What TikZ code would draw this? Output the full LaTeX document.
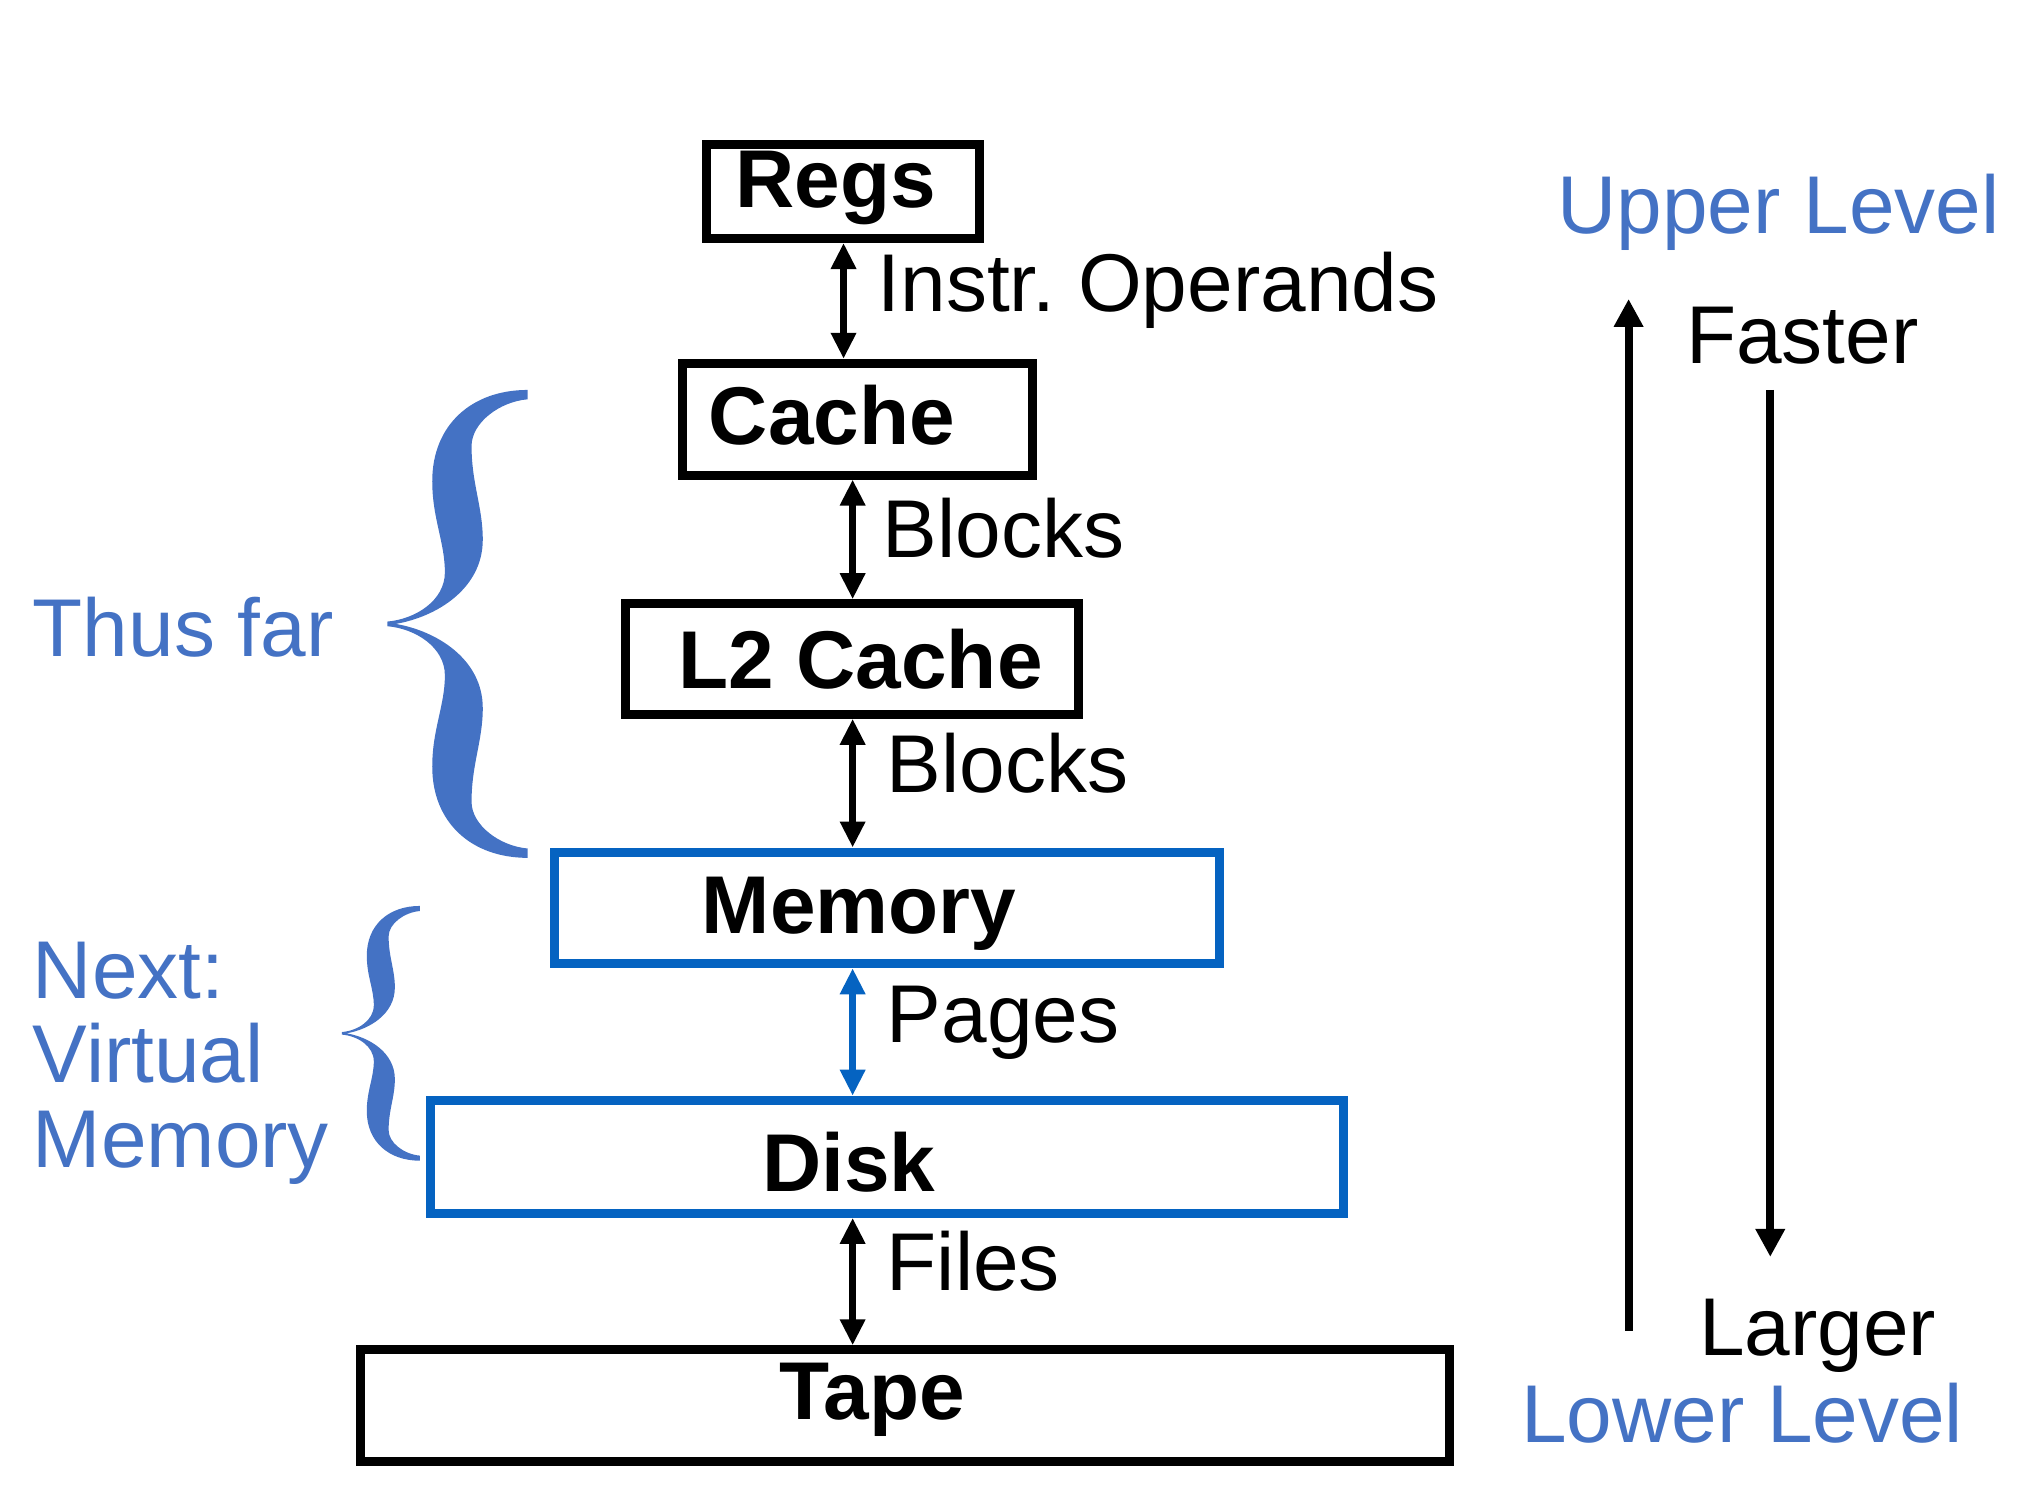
\documentclass[tikz,border=0pt]{standalone}
\usepackage{fontspec}
\setmainfont{Liberation Sans}
\usetikzlibrary{arrows.meta, positioning}

\definecolor{slideblue}{HTML}{4472C4}
\definecolor{boxblue}{HTML}{0563C1}

\tikzset{
  level/.style={draw, line width=4.5pt, inner sep=0pt},
  name text/.style={font=\fontsize{41}{49}\selectfont\bfseries, inner sep=0pt, anchor=base},
  link text/.style={font=\fontsize{41}{49}\selectfont, inner sep=0pt, anchor=base west},
  side text/.style={link text, text=slideblue},
  link/.style={{Triangle[width=12pt,length=13pt]}-{Triangle[width=12pt,length=13pt]}, line width=3.7pt},
  trend/.style={-{Triangle[width=14pt,length=14pt]}, line width=4pt},
  curly/.pic={
    \fill[slideblue] (1,-1) .. controls (0.6,-1) and (0.32,-0.85) .. (0.32,-0.61)
      .. controls (0.32,-0.45) and (0.41,-0.35) .. (0.41,-0.22)
      .. controls (0.41,-0.1) and (0.2,-0.02) .. (0,-0.01)
      -- (0,0.01)
      .. controls (0.2,0.02) and (0.41,0.1) .. (0.41,0.22)
      .. controls (0.41,0.35) and (0.32,0.45) .. (0.32,0.61)
      .. controls (0.32,0.85) and (0.6,1) .. (1,1)
      -- (1,0.96)
      .. controls (0.8,0.95) and (0.6,0.86) .. (0.6,0.76)
      .. controls (0.6,0.6) and (0.68,0.5) .. (0.68,0.36)
      .. controls (0.68,0.15) and (0.35,0.03) .. (0.06,0)
      .. controls (0.35,-0.03) and (0.68,-0.15) .. (0.68,-0.36)
      .. controls (0.68,-0.5) and (0.6,-0.6) .. (0.6,-0.76)
      .. controls (0.6,-0.86) and (0.8,-0.95) .. (1,-0.96) -- cycle;
  }
}

\begin{document}
\begin{tikzpicture}[x=0.65pt, y=-0.65pt]
  \useasboundingbox (0,0) rectangle (1568,1156);

  % the hierarchy
  \node (regs) [level, minimum width=136.5pt, minimum height=46.8pt] at (648.5,147.5) {};
  \node (cache) [level, minimum width=174.9pt, minimum height=55.9pt] at (660,322.5) {};
  \node (l2) [level, minimum width=226.2pt, minimum height=55.3pt] at (655.5,507) {};
  \node (mem) [level, draw=boxblue, minimum width=332.8pt, minimum height=55.9pt] at (682.5,698.5) {};
  \node (disk) [level, draw=boxblue, minimum width=456.3pt, minimum height=56.6pt] at (682.5,890) {};
  \node (tape) [level, minimum width=544.7pt, minimum height=55.9pt] at (696.5,1081.5) {};

  \node (regs text) [name text] at (643,160) {Regs};
  \node (cache text) [name text] at (640,342) {Cache};
  \node (l2 text) [name text] at (662,530) {L2 Cache};
  \node (mem text) [name text] at (661,718) {Memory};
  \node (disk text) [name text] at (653,917) {Disk};
  \node (tape text) [name text] at (671,1092) {Tape};

  % transfers
  \coordinate (spine0) at (649,0);
  \coordinate (spine) at (656,0);
  \draw [link] (regs.south -| spine0) -- (cache.north -| spine0);
  \draw [link] (cache.south -| spine) -- (l2.north -| spine);
  \draw [link] (l2.south -| spine) -- (mem.north -| spine);
  \draw [link, boxblue] (mem.south -| spine) -- (disk.north -| spine);
  \draw [link] (disk.south -| spine) -- (tape.north -| spine);

  \node (instr) [link text] at (675,240) {Instr.\ Operands};
  \node (blocks1) [link text] at (679,429) {Blocks};
  \node (blocks2) [link text] at (682,610) {Blocks};
  \node (pages) [link text] at (682,802) {Pages};
  \node (files) [link text] at (682,993) {Files};

  % speed and size
  \coordinate (fast tail) at (1253,1024);
  \coordinate (fast tip) at (1253,230);
  \coordinate (large tail) at (1362,300);
  \coordinate (large tip) at (1362,967);
  \draw [trend] (fast tail) -- (fast tip);
  \draw [trend] (large tail) -- (large tip);

  \node (upper) [side text] at (1198,180) {Upper Level};
  \node (faster) [link text] at (1297,280) {Faster};
  \node (larger) [link text] at (1307,1043) {Larger};
  \node (lower) [side text] at (1170,1110) {Lower Level};

  % course parts
  \pic [xscale=108, yscale=180] at (298,480) {curly};
  \pic [xscale=60, yscale=98] at (263,795) {curly};
  \node (thus) [side text] at (25,505) {Thus far};
  \node (next1) [side text] at (25,768) {Next:};
  \node (next2) [side text] at (25,833) {Virtual};
  \node (next3) [side text] at (25,898) {Memory};
\end{tikzpicture}
\end{document}
